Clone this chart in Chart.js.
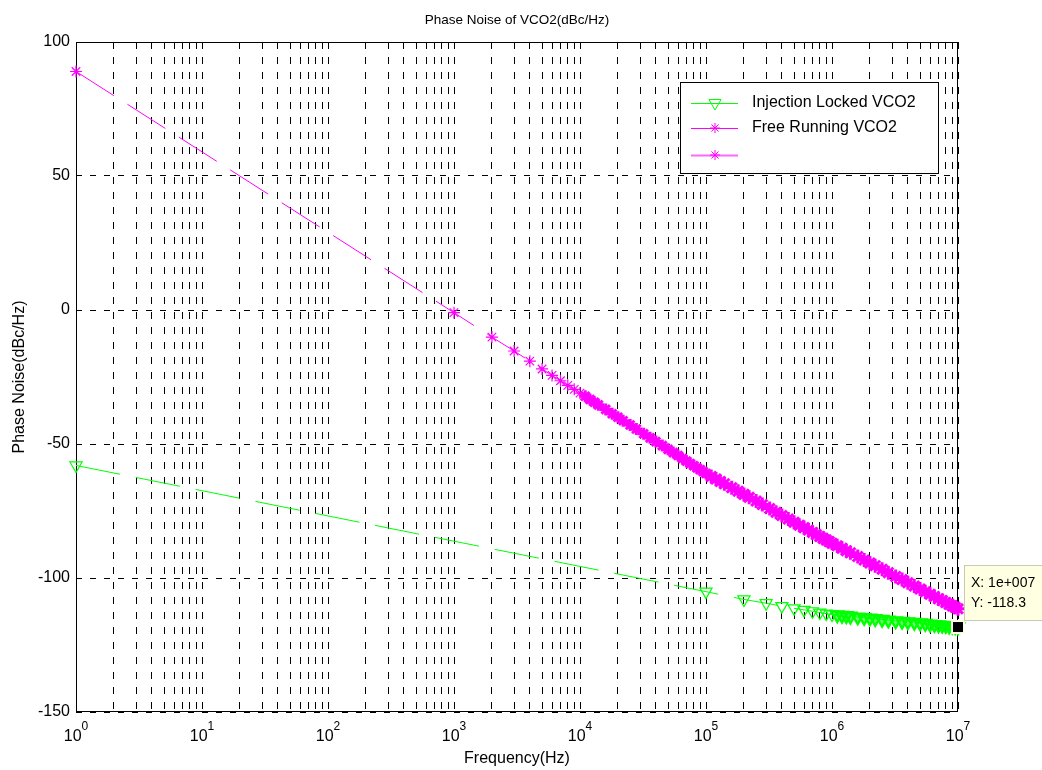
<!DOCTYPE html>
<html>
<head>
<meta charset="utf-8">
<script src="https://cdn.jsdelivr.net/npm/chart.js@4.4.1/dist/chart.umd.min.js"></script>
<style>
  html, body { margin: 0; padding: 0; background: #fff; }
  canvas { display: block; }
</style>
</head>
<body>
<canvas id="chart" width="1042" height="770"></canvas>
<script>
// --- data ---
const lockedFreq = [1, 1e5, 2e5, 3e5, 4e5, 5e5, 6e5, 7e5, 8e5, 9e5,
  1e6, 1.1e6, 1.2e6, 1.3e6, 1.4e6, 1.6e6, 1.8e6, 2e6, 2.2e6, 2.5e6, 2.8e6, 3.2e6, 3.6e6,
  4e6, 4.5e6, 5e6, 5.5e6, 6e6, 6.5e6, 7e6, 7.5e6, 8e6, 8.5e6, 9e6, 9.5e6, 1e7];
const lockedNoise = [-58, -105.1, -108.0, -109.4, -110.5, -111.3, -111.9, -112.4, -112.9, -113.3,
  -113.6, -113.8, -114.0, -114.1, -114.3, -114.6, -114.8, -115.0, -115.2, -115.5, -115.7, -116.0, -116.2,
  -116.4, -116.6, -116.8, -117.0, -117.2, -117.4, -117.5, -117.7, -117.8, -118.0, -118.1, -118.2, -118.3];

const freeFreq = [1, 1e3, 2e3, 3e3, 4e3, 5e3, 6e3, 7e3, 8e3, 9e3,
  1e4, 1.1e4, 1.2e4, 1.3e4, 1.4e4, 1.6e4, 1.8e4, 2e4, 2.2e4, 2.5e4, 2.8e4, 3.2e4, 3.6e4,
  4e4, 4.5e4, 5e4, 5.5e4, 6e4, 6.5e4, 7e4, 7.5e4, 8e4, 8.5e4, 9e4, 9.5e4,
  1e5, 1.1e5, 1.2e5, 1.3e5, 1.4e5, 1.6e5, 1.8e5, 2e5, 2.2e5, 2.5e5, 2.8e5, 3.2e5, 3.6e5,
  4e5, 4.5e5, 5e5, 5.5e5, 6e5, 6.5e5, 7e5, 7.5e5, 8e5, 8.5e5, 9e5, 9.5e5,
  1e6, 1.1e6, 1.2e6, 1.3e6, 1.4e6, 1.6e6, 1.8e6, 2e6, 2.2e6, 2.5e6, 2.8e6, 3.2e6, 3.6e6,
  4e6, 4.5e6, 5e6, 5.5e6, 6e6, 6.5e6, 7e6, 7.5e6, 8e6, 8.5e6, 9e6, 9.5e6, 1e7];
const freeNoise = [89, -1.0, -10.1, -15.3, -19.1, -22.0, -24.4, -26.4, -28.1, -29.6,
  -31.0, -32.2, -33.4, -34.4, -35.4, -37.1, -38.7, -40.0, -41.3, -42.9, -44.4, -46.2, -47.7,
  -49.1, -50.6, -52.0, -53.2, -54.3, -55.4, -56.4, -57.3, -58.1, -58.9, -59.6, -60.3,
  -61.0, -62.1, -63.1, -64.0, -64.8, -66.3, -67.6, -68.8, -69.9, -71.3, -72.6, -74.1, -75.5,
  -76.7, -78.0, -79.2, -80.3, -81.2, -82.1, -83.0, -83.8, -84.5, -85.2, -85.8, -86.4,
  -87.0, -88.0, -88.9, -89.8, -90.6, -92.0, -93.3, -94.4, -95.4, -96.7, -98.0, -99.4, -100.6,
  -101.8, -103.0, -104.1, -105.1, -106.1, -106.9, -107.7, -108.4, -109.1, -109.8, -110.4, -110.9, -111.5];

const seriesLabels = ['Injection Locked VCO2', 'Free Running VCO2', ''];
const xDecades = [0, 1, 2, 3, 4, 5, 6, 7];
const yTicks = [-150, -100, -50, 0, 50, 100];
const dataTip = { x: 1e7, y: -118.3, xText: '1e+007', yText: '-118.3' };

const FONT = '"Liberation Sans", Arial, Helvetica, sans-serif';
const GREEN = '#00ff00';
const MAGENTA = '#ff00ff';

// grid at every 1..9 x 10^n
const xGrid = [];
xDecades.forEach(d => {
  if (d === 7) { xGrid.push(1e7); return; }
  for (let m = 1; m <= 9; m++) xGrid.push(m * Math.pow(10, d));
});

const pts = (xs, ys) => xs.map((x, i) => ({ x, y: ys[i] }));

function drawStar(ctx, x, y, r, color) {
  ctx.save();
  ctx.strokeStyle = color; ctx.lineWidth = 1;
  ctx.beginPath();
  for (let k = 0; k < 4; k++) {
    const a = k * Math.PI / 4;
    ctx.moveTo(x - Math.cos(a) * r, y - Math.sin(a) * r);
    ctx.lineTo(x + Math.cos(a) * r, y + Math.sin(a) * r);
  }
  ctx.stroke();
  ctx.restore();
}
function drawTriDown(ctx, x, y, r, color) {
  ctx.save();
  ctx.strokeStyle = color; ctx.lineWidth = 1;
  ctx.beginPath();
  ctx.moveTo(x - r * 0.866, y - r * 0.5);
  ctx.lineTo(x + r * 0.866, y - r * 0.5);
  ctx.lineTo(x, y + r);
  ctx.closePath();
  ctx.stroke();
  ctx.restore();
}

const decor = {
  id: 'decor',
  beforeDatasetsDraw(chart) {
    const { ctx, chartArea: a } = chart;
    ctx.save();
    ctx.strokeStyle = '#000'; ctx.lineWidth = 1;
    ctx.strokeRect(Math.round(a.left) + 0.5, Math.round(a.top) + 0.5,
      Math.round(a.right - a.left) - 1, Math.round(a.bottom - a.top) - 1);
    ctx.restore();
  },
  afterDraw(chart) {
    const { ctx, chartArea: a, scales: { x, y } } = chart;
    ctx.save();
    ctx.fillStyle = '#000';

    // title + axis titles
    ctx.textAlign = 'center'; ctx.textBaseline = 'alphabetic';
    ctx.font = '13.5px ' + FONT;
    ctx.fillText('Phase Noise of VCO2(dBc/Hz)', (a.left + a.right) / 2, 24);
    ctx.font = '16px ' + FONT;
    ctx.fillText('Frequency(Hz)', (a.left + a.right) / 2, 763);
    ctx.save();
    ctx.translate(24, (a.top + a.bottom) / 2);
    ctx.rotate(-Math.PI / 2);
    ctx.fillText('Phase Noise(dBc/Hz)', 0, 0);
    ctx.restore();

    // x tick labels 10^n
    xDecades.forEach(d => {
      const px = x.getPixelForValue(Math.pow(10, d));
      ctx.font = '16px ' + FONT;
      const w1 = ctx.measureText('10').width;
      ctx.font = '12px ' + FONT;
      const w2 = ctx.measureText(String(d)).width;
      const x0 = px - (w1 + w2) / 2;
      ctx.textAlign = 'left';
      ctx.font = '16px ' + FONT;
      ctx.fillText('10', x0, 741);
      ctx.font = '12px ' + FONT;
      ctx.fillText(String(d), x0 + w1, 730);
    });

    // legend
    const lx = 680, ly = 82, lw = 258, lh = 91;
    ctx.fillStyle = '#fff';
    ctx.fillRect(lx, ly, lw, lh);
    ctx.strokeStyle = '#000'; ctx.lineWidth = 1;
    ctx.strokeRect(lx + 0.5, ly + 0.5, lw, lh);
    const rows = [103, 128, 155];
    const styles = [
      { c: GREEN, m: 'tri', lw: 1 },
      { c: MAGENTA, m: 'star', lw: 1 },
      { c: '#ff66ff', m: 'star', lw: 2 }
    ];
    rows.forEach((ry, i) => {
      const s = styles[i];
      ctx.strokeStyle = s.c; ctx.lineWidth = s.lw;
      ctx.beginPath(); ctx.moveTo(691, ry + 0.5); ctx.lineTo(738, ry + 0.5); ctx.stroke();
      if (s.m === 'tri') drawTriDown(ctx, 715, ry, 7, s.c);
      else drawStar(ctx, 715, ry, 5, MAGENTA);
      ctx.fillStyle = '#000';
      ctx.font = '16px ' + FONT;
      ctx.textAlign = 'left'; ctx.textBaseline = 'middle';
      ctx.fillText(seriesLabels[i], 752, ry);
    });

    // data tip
    const tx = x.getPixelForValue(dataTip.x), ty = y.getPixelForValue(dataTip.y);
    ctx.fillStyle = '#ffffe1';
    ctx.fillRect(tx - 7, ty - 7, 14, 14);
    ctx.fillStyle = '#000';
    ctx.fillRect(tx - 5, ty - 5, 10, 10);
    ctx.fillStyle = '#ffffe1';
    ctx.fillRect(tx + 6, ty - 62, 90, 56);
    ctx.strokeStyle = '#c8c8b4'; ctx.lineWidth = 1;
    ctx.strokeRect(tx + 6.5, ty - 61.5, 90, 55);
    ctx.fillStyle = '#000';
    ctx.font = '14px ' + FONT;
    ctx.textAlign = 'left'; ctx.textBaseline = 'alphabetic';
    ctx.fillText('X: ' + dataTip.xText, tx + 13, ty - 40);
    ctx.fillText('Y: ' + dataTip.yText, tx + 13, ty - 20);
    ctx.restore();
  }
};

// markers overlap into a solid band where the original samples are dense
const past = (from, a, b) => c => (c.raw && c.raw.x > from ? b : a);

new Chart(document.getElementById('chart'), {
  type: 'line',
  data: {
    datasets: [
      {
        label: seriesLabels[0],
        data: pts(lockedFreq, lockedNoise),
        borderColor: GREEN, borderWidth: 1, borderDash: [45, 16],
        pointStyle: 'triangle', pointRotation: 180, pointRadius: 7,
        pointBorderColor: GREEN,
        pointBackgroundColor: past(1.05e6, 'rgba(0,0,0,0)', 'rgba(0,255,0,0.55)'),
        pointBorderWidth: past(1.05e6, 1.2, 2.4),
        tension: 0, clip: false
      },
      {
        label: seriesLabels[1],
        data: pts(freeFreq, freeNoise),
        borderColor: MAGENTA, borderWidth: 1, borderDash: [45, 16],
        pointStyle: 'star',
        pointRadius: past(1.05e5, 6, 7),
        pointBorderColor: MAGENTA, pointBackgroundColor: MAGENTA,
        pointBorderWidth: past(1.05e4, 1.2, 3),
        tension: 0, clip: false
      }
    ]
  },
  options: {
    responsive: false,
    animation: false,
    events: [],
    layout: { padding: { left: 0, right: 84, top: 42, bottom: 0 } },
    plugins: { legend: { display: false }, title: { display: false }, tooltip: { enabled: false } },
    scales: {
      x: {
        type: 'logarithmic', min: 1, max: 1e7,
        afterBuildTicks: s => { s.ticks = xGrid.map(v => ({ value: v })); },
        afterFit: s => { s.height = 58; },
        ticks: { display: false },
        grid: { color: '#000', lineWidth: 1, drawTicks: false },
        border: { display: false, dash: [7, 8] }
      },
      y: {
        min: -150, max: 100,
        afterBuildTicks: s => { s.ticks = yTicks.map(v => ({ value: v })); },
        afterFit: s => { s.width = 76; },
        ticks: { color: '#000', font: { family: FONT, size: 16 }, padding: 6 },
        grid: { color: '#000', lineWidth: 1, drawTicks: false },
        border: { display: false, dash: [6, 8] }
      }
    }
  },
  plugins: [decor]
});
</script>
</body>
</html>
